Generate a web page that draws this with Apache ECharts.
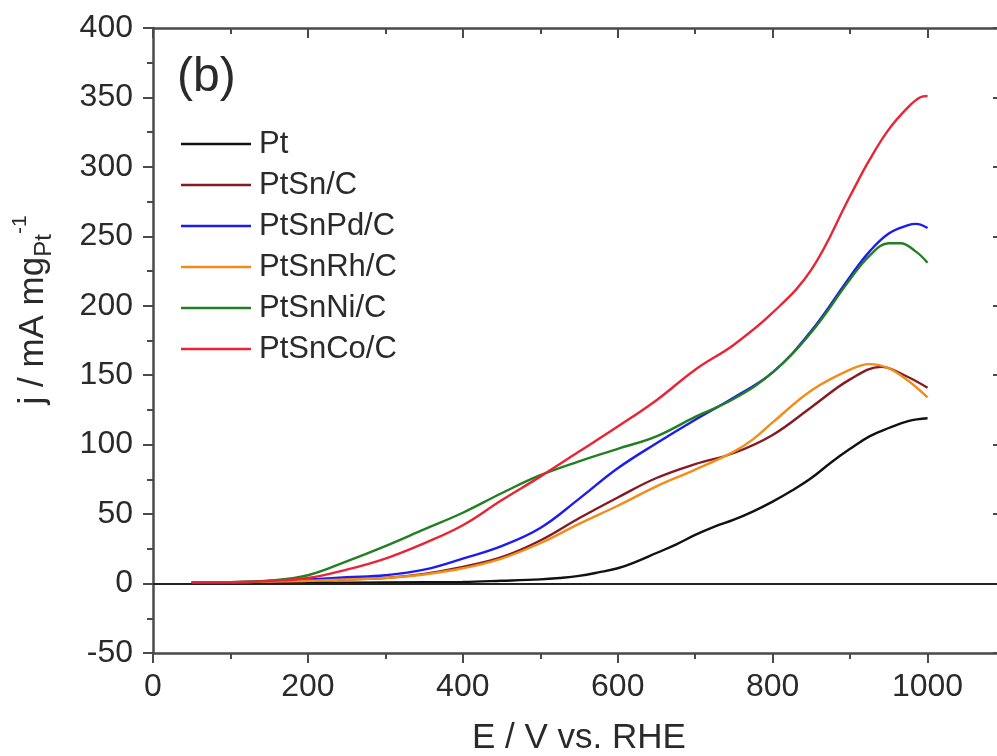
<!DOCTYPE html>
<html>
<head>
<meta charset="utf-8">
<script src="https://cdn.jsdelivr.net/npm/echarts@6/dist/echarts.min.js"></script>
<style>
html,body{margin:0;padding:0;background:#fff;}
#c{width:997px;height:756px;}
</style>
</head>
<body>
<div id="c"></div>
<script>
// ---- data (E as labelled on the axis, j in mA mg_Pt^-1) ----
const seriesNames = ['Pt', 'PtSn/C', 'PtSnPd/C', 'PtSnRh/C', 'PtSnNi/C', 'PtSnCo/C'];
const seriesColors = ['#111111', '#821c22', '#1c1cf0', '#f28c1a', '#228022', '#ea2434'];

const ptE = [50,100,200,300,400,450,500,525,550,575,600,625,650,675,700,725,750,775,800,825,850,875,900,925,950,975,1000];
const ptJ = [0.5,0.5,0.5,0.8,1.2,2,3,4,5.5,8,11,16,22,28,35,41,46,52,59,67,76,87,97,106,112,117,119];

const ptSnE = [50,100,150,200,250,300,350,400,450,500,550,600,650,700,750,800,850,900,940,970,1000];
const ptSnJ = [1,1,1.5,2,3,4,7,12,19,31,47,62,76,86,94,107,127,147,156,150,141];

const ptSnPdE = [50,100,150,200,250,300,350,400,450,500,550,600,650,700,750,800,850,900,925,950,975,985,1000];
const ptSnPdJ = [1,1,1.5,3,4.5,6,10,18,27,40,61,83,101,118,134,152,182,221,239,252,258,259,256];

const ptSnRhE = [50,100,150,200,250,300,350,400,450,500,550,600,650,700,750,775,800,850,900,925,950,975,1000];
const ptSnRhJ = [1,1,1.5,2,3,4,6.5,11,18,29,43,56,70,82,95,104,116,139,154,158,155,146,134];

const ptSnNiE = [50,100,150,200,250,300,350,400,450,500,550,600,650,700,750,800,850,900,925,950,965,985,1000];
const ptSnNiJ = [1,1,2,6,16,27,39,51,65,78,88,97,106,120,133,152,181,219,236,245,245,239,231];

const ptSnCoE = [50,100,150,200,250,300,350,400,450,500,550,600,650,700,750,800,850,900,925,950,975,990,1000];
const ptSnCoJ = [1,1,2,4,10,18,29,42,60,77,95,113,132,154,172,195,226,279,305,327,343,350,351];

const xTicksMajor = 200, xTicksMinor = 100;
const yTicksMajor = 50;

const allE = [ptE, ptSnE, ptSnPdE, ptSnRhE, ptSnNiE, ptSnCoE];
const allJ = [ptJ, ptSnJ, ptSnPdJ, ptSnRhJ, ptSnNiJ, ptSnCoJ];

const FONT = '"Liberation Sans", Arial, Helvetica, sans-serif';
const AXIS_COLOR = '#4a4a4a';
const TEXT_COLOR = '#2a2a2a';

function pair(es, js) { return es.map((e, i) => [e, js[i]]); }

const series = seriesNames.map((name, k) => {
  const s = {
    name: name,
    type: 'line',
    xAxisIndex: 0,
    yAxisIndex: 0,
    data: pair(allE[k], allJ[k]),
    smooth: 0.4,
    showSymbol: false,
    symbol: 'none',
    color: seriesColors[k],
    lineStyle: { color: seriesColors[k], width: 2.4 },
    z: 3 + k,
    animation: false
  };
  if (k === 0) {
    s.markLine = {
      silent: true,
      symbol: ['none', 'none'],
      label: { show: false },
      lineStyle: { color: '#222', width: 2, type: 'solid' },
      data: [{ yAxis: 0 }],
      animation: false
    };
  }
  return s;
});

const xBase = {
  type: 'value', min: 0, max: 1100,
  splitLine: { show: false },
  axisLine: { show: false, onZero: false, lineStyle: { color: AXIS_COLOR, width: 2.5 } },
  axisLabel: { show: false },
  axisTick: { show: true, lineStyle: { color: AXIS_COLOR, width: 2 } }
};

const chart = echarts.init(document.getElementById('c'), null, { renderer: 'canvas' });
chart.setOption({
  backgroundColor: '#ffffff',
  animation: false,
  textStyle: { fontFamily: FONT },
  grid: { left: 153, top: 28, right: -8, bottom: 103, outerBoundsMode: 'none', containLabel: false },
  legend: {
    data: seriesNames,
    orient: 'vertical',
    left: 181,
    top: 128,
    padding: 0,
    icon: 'rect',
    itemWidth: 70,
    itemHeight: 2.5,
    itemGap: 9,
    textStyle: { fontSize: 31, color: TEXT_COLOR, fontFamily: FONT, lineHeight: 32, padding: [0, 0, 0, 3] },
    selectedMode: false
  },
  xAxis: [
    Object.assign({}, xBase, {
      position: 'bottom', interval: xTicksMajor,
      axisLine: { show: true, onZero: false, lineStyle: { color: AXIS_COLOR, width: 2.5 } },
      axisTick: { show: true, inside: false, length: 10, lineStyle: { color: AXIS_COLOR, width: 2 } },
      axisLabel: { show: true, fontSize: 32, color: TEXT_COLOR, fontFamily: FONT, margin: 18, showMaxLabel: false,
        formatter: v => (v > 1000 ? '' : String(v)) },
      name: 'E / V vs. RHE', nameLocation: 'middle', nameGap: 68,
      nameTextStyle: { fontSize: 35, color: TEXT_COLOR, fontFamily: FONT }
    }),
    Object.assign({}, xBase, {
      position: 'bottom', interval: xTicksMinor,
      axisTick: { show: true, inside: false, length: 6, lineStyle: { color: AXIS_COLOR, width: 2 } }
    }),
    Object.assign({}, xBase, {
      position: 'top', interval: xTicksMajor,
      axisLine: { show: true, onZero: false, lineStyle: { color: AXIS_COLOR, width: 2.5 } },
      axisTick: { show: true, inside: true, length: 10, lineStyle: { color: AXIS_COLOR, width: 2 } }
    }),
    Object.assign({}, xBase, {
      position: 'top', interval: xTicksMinor,
      axisTick: { show: true, inside: true, length: 6, lineStyle: { color: AXIS_COLOR, width: 2 } }
    })
  ],
  yAxis: [
    {
      type: 'value', min: -50, max: 400, interval: yTicksMajor, position: 'left',
      splitLine: { show: false },
      axisLine: { show: true, onZero: false, lineStyle: { color: AXIS_COLOR, width: 2.5 } },
      axisTick: { show: true, inside: false, length: 10, lineStyle: { color: AXIS_COLOR, width: 2 } },
      minorTick: { show: true, splitNumber: 2, length: 6, lineStyle: { color: AXIS_COLOR, width: 2 } },
      axisLabel: { show: true, fontSize: 32, color: TEXT_COLOR, fontFamily: FONT, margin: 20 }
    },
    {
      type: 'value', min: -50, max: 400, interval: yTicksMajor, position: 'right',
      splitLine: { show: false },
      axisLine: { show: false, onZero: false, lineStyle: { color: AXIS_COLOR, width: 2.5 } },
      axisTick: { show: true, inside: true, length: 12, lineStyle: { color: AXIS_COLOR, width: 2 } },
      minorTick: { show: true, splitNumber: 2, length: 6, lineStyle: { color: AXIS_COLOR, width: 2 } },
      axisLabel: { show: false }
    }
  ],
  graphic: [
    {
      type: 'text', left: 177, top: 54, z: 10,
      style: { text: '(b)', fontSize: 48, fontFamily: FONT, fill: TEXT_COLOR }
    },
    {
      type: 'text', x: 33, y: 310, rotation: Math.PI / 2, z: 10,
      style: {
        text: '{m|j / mA mg}{s|Pt}{p|-1}',
        align: 'center', verticalAlign: 'middle',
        fill: TEXT_COLOR, fontFamily: FONT,
        rich: {
          m: { fontSize: 35, fontFamily: FONT, fill: TEXT_COLOR, lineHeight: 46 },
          s: { fontSize: 24, fontFamily: FONT, fill: TEXT_COLOR, verticalAlign: 'bottom' },
          p: { fontSize: 21, fontFamily: FONT, fill: TEXT_COLOR, verticalAlign: 'top' }
        }
      }
    }
  ],
  series: series
});
</script>
</body>
</html>
